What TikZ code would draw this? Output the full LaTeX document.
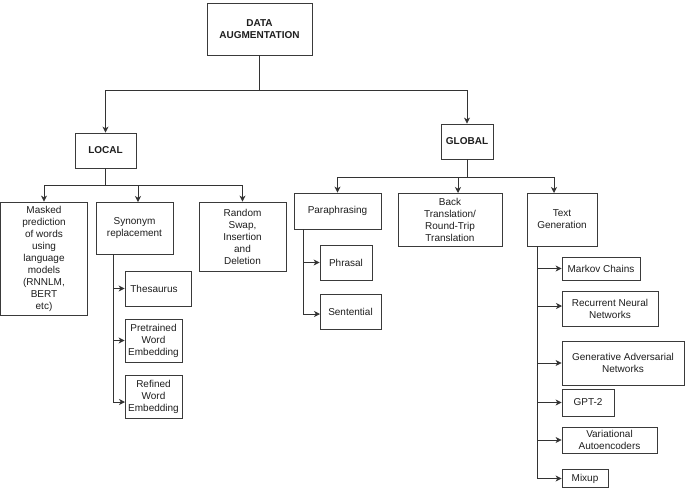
\documentclass[tikz,border=0pt]{standalone}
\usepackage{fontspec}
\setmainfont{Liberation Sans}
\usetikzlibrary{arrows.meta,calc}
\definecolor{linec}{HTML}{333333}
\definecolor{boxc}{HTML}{3A3A3A}
\definecolor{txtc}{HTML}{1E1E1E}
\tikzset{
  box/.style={draw=boxc, line width=0.8pt, fill=white, inner sep=0pt, align=center, text=txtc, font=\fontsize{10}{12}\selectfont},
  bbox/.style={box, font=\bfseries\fontsize{10}{12}\selectfont},
  arr/.style={draw=linec, line width=0.8pt, -{Stealth[length=6pt,width=6pt,inset=1.8pt]}},
  ln/.style={draw=linec, line width=0.8pt},
}
\begin{document}
\begin{tikzpicture}[x=1pt,y=-1pt]
\useasboundingbox (0,0) rectangle (685,488);
% top levels
\node[bbox, minimum width=105pt, minimum height=52pt] (da) at (259.5,29) {DATA\\AUGMENTATION};
\node[bbox, minimum width=61pt, minimum height=35pt] (local) at (105.5,150.5) {LOCAL};
\node[bbox, minimum width=52pt, minimum height=35pt] (global) at (467,141.5) {GLOBAL};
% local children
\node[box, minimum width=86.5pt, minimum height=113pt] (masked) at (44,258.5) {Masked\\prediction\\of words\\using\\language\\models\\(RNNLM,\\BERT\\etc)};
\node[box, minimum width=77pt, minimum height=52pt] (syn) at (134.5,228) {Synonym\\replacement};
\node[box, minimum width=87pt, minimum height=69pt] (rand) at (242.5,236.5) {Random\\Swap,\\Insertion\\and\\Deletion};
\node[box, minimum width=66pt, minimum height=35pt] (thes) at (158,288.5) {Thesaurus\hspace{8pt}};
\node[box, minimum width=57pt, minimum height=43pt] (pre) at (153.5,340.5) {Pretrained\\Word\\Embedding};
\node[box, minimum width=57pt, minimum height=43pt] (ref) at (153.5,396.5) {Refined\\Word\\Embedding};
% global children
\node[box, minimum width=87pt, minimum height=36pt] (para) at (337.5,211) {Paraphrasing};
\node[box, minimum width=104pt, minimum height=53pt] (back) at (450,219.5) {Back\\Translation/\\Round-Trip\\Translation};
\node[box, minimum width=70pt, minimum height=53pt] (tg) at (562,219.5) {Text\\Generation};
\node[box, minimum width=52pt, minimum height=35pt] (phr) at (346,262.5) {Phrasal};
\node[box, minimum width=61pt, minimum height=35pt] (sent) at (350.5,311.5) {Sentential};
\node[box, minimum width=78pt, minimum height=23pt] (mc) at (601,268.5) {Markov Chains};
\node[box, minimum width=96pt, minimum height=35pt] (rnn) at (610,308.5) {Recurrent Neural\\Networks};
\node[box, minimum width=122pt, minimum height=44pt] (gan) at (623,363) {Generative Adversarial\\Networks};
\node[box, minimum width=52pt, minimum height=27pt] (gpt) at (588,402.5) {GPT-2};
\node[box, minimum width=95pt, minimum height=26pt] (vae) at (609.5,440) {Variational\\Autoencoders};
\node[box, minimum width=46pt, minimum height=18pt] (mix) at (585,478.5) {Mixup};
% junction coordinates
\coordinate (j1) at (259.5,90);
\coordinate (j2) at (105.5,185);
\coordinate (j3) at (467,177);
\coordinate (synin) at (138,202);
\coordinate (backin) at (458,193);
\coordinate (tgin) at (554,193);
\coordinate (st) at (113,254);
\coordinate (refin) at (125,402);
\coordinate (pt) at (303,229);
\coordinate (sentin) at (320,314);
\coordinate (tt) at (537,246);
\coordinate (rnnin) at (562,306);
% top connectors
\draw[ln] (da.south) -- (j1);
\draw[arr] (j1) -| (local.north);
\draw[arr] (j1) -| (global.north);
% local connectors
\draw[ln] (local.south) -- (j2);
\draw[arr] (j2) -| (masked.north);
\draw[arr] (j2) -| (synin);
\draw[arr] (j2) -| (rand.north);
\draw[arr] (st) |- (thes.west);
\draw[arr] (st) |- (pre.west);
\draw[arr] (st) |- (refin);
% global connectors
\draw[ln] (global.south) -- (j3);
\draw[arr] (j3) -| (para.north);
\draw[arr] (j3) -| (backin);
\draw[arr] (j3) -| (tgin);
\draw[arr] (pt) |- (phr.west);
\draw[arr] (pt) |- (sentin);
\draw[arr] (tt) |- (mc.west);
\draw[arr] (tt) |- (rnnin);
\draw[arr] (tt) |- (gan.west);
\draw[arr] (tt) |- (gpt.west);
\draw[arr] (tt) |- (vae.west);
\draw[arr] (tt) |- (mix.west);
\end{tikzpicture}
\end{document}
